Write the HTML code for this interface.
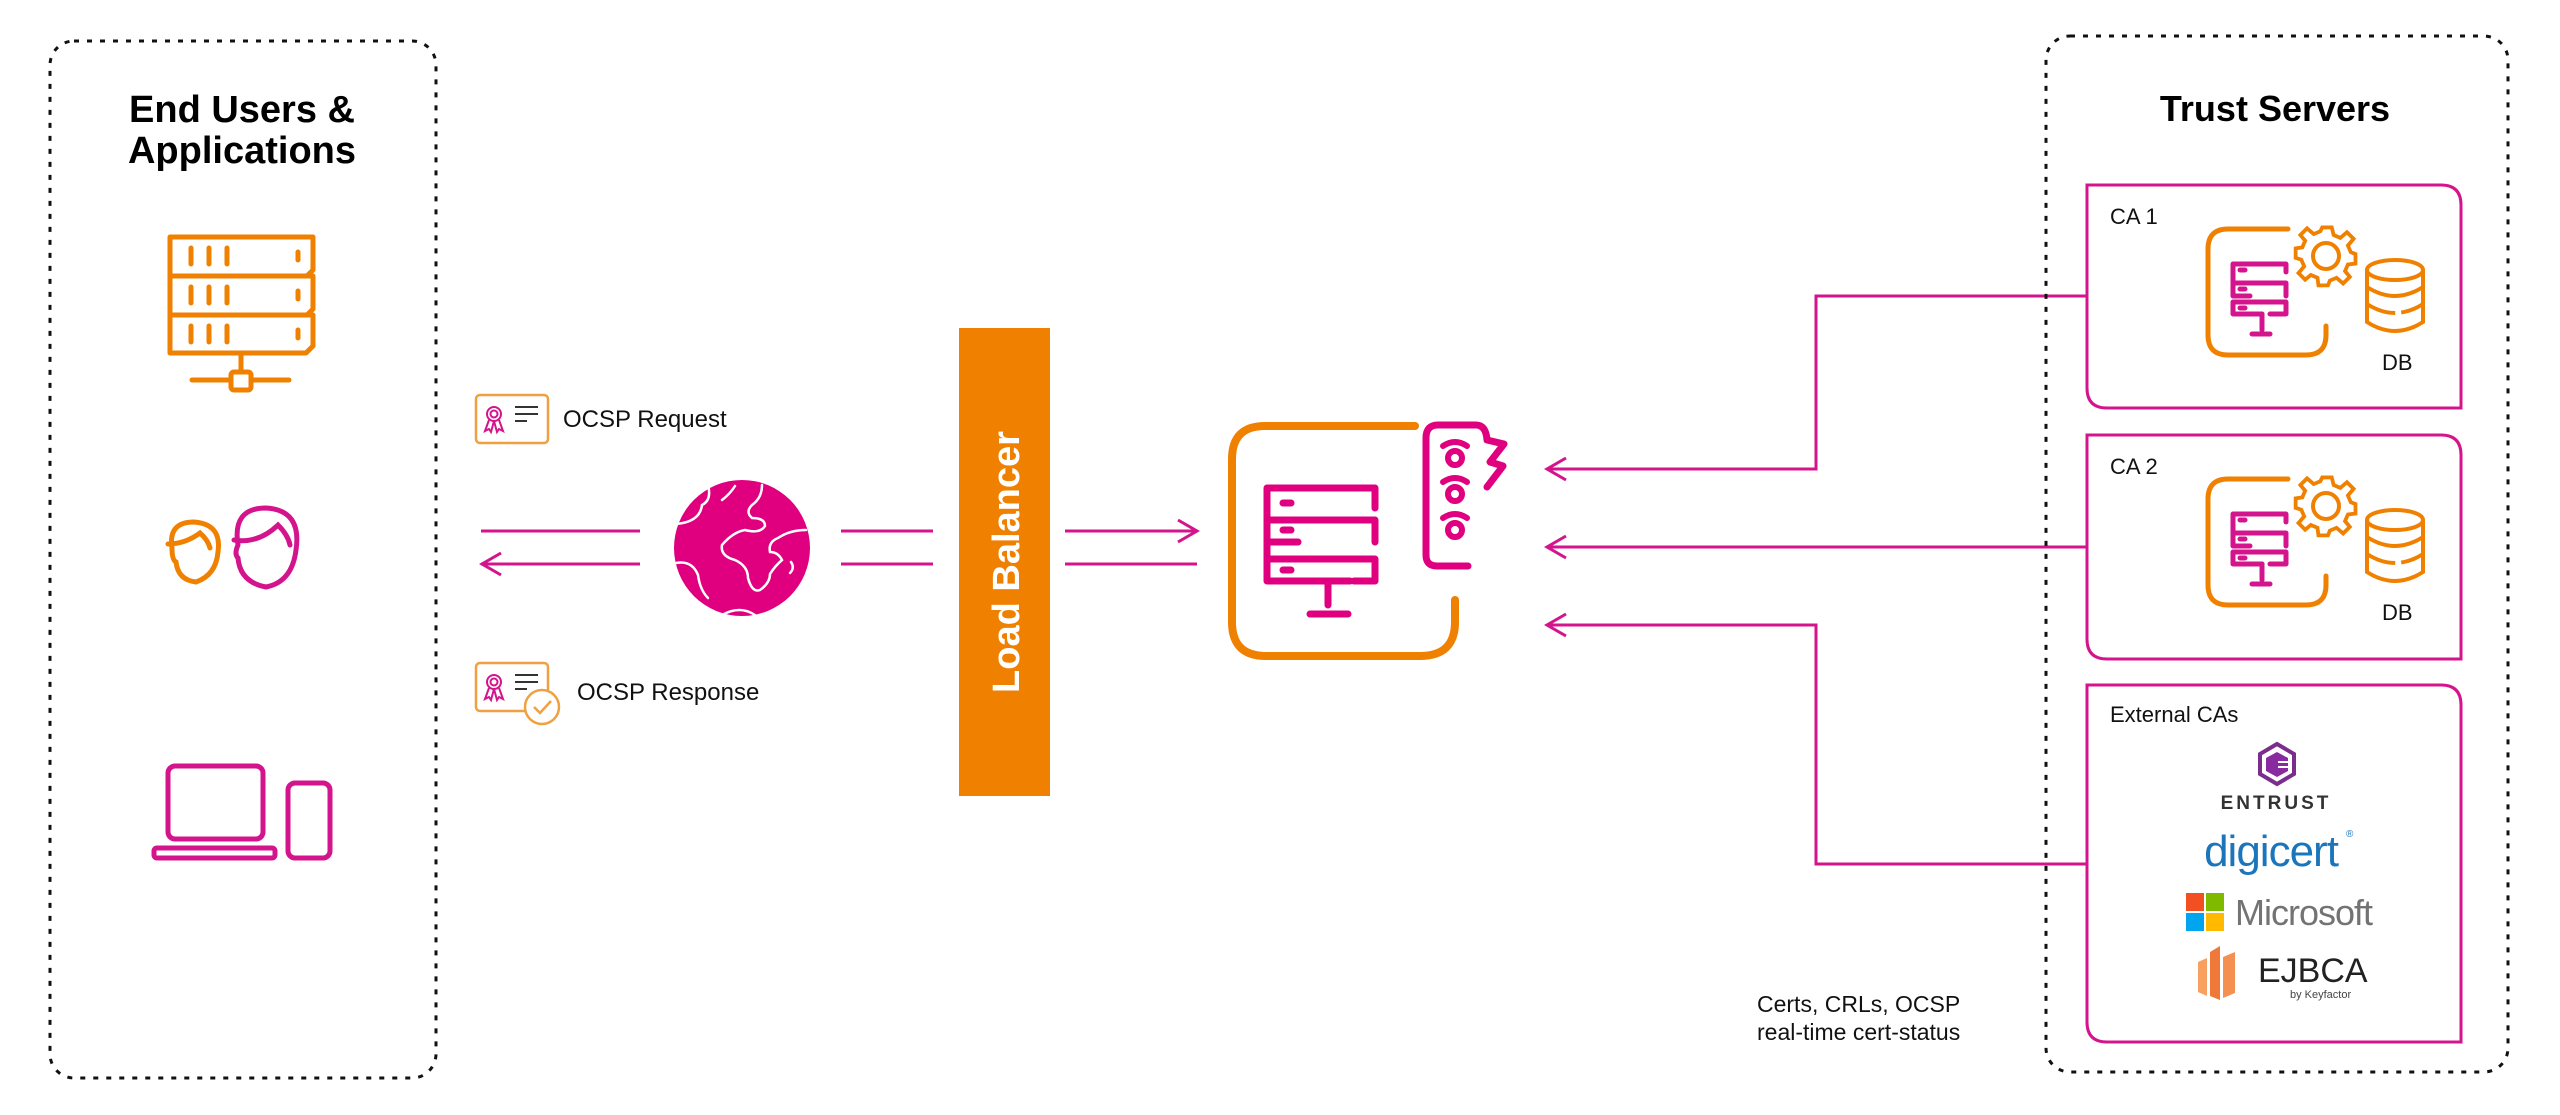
<!DOCTYPE html>
<html><head><meta charset="utf-8"><style>
html,body{margin:0;padding:0;background:#fff;}
svg{display:block}
text{font-family:"Liberation Sans",sans-serif}
</style></head><body>
<svg width="2560" height="1115" viewBox="0 0 2560 1115" xmlns="http://www.w3.org/2000/svg">
<defs>
<g id="caicon">
  <path d="M2288 229 H2228 Q2208 229 2208 249 V335 Q2208 355 2228 355 H2306 Q2326 355 2326 335 V326" fill="none" stroke="#f08100" stroke-width="5" stroke-linecap="round"/>
  <g fill="none" stroke="#d4148c" stroke-width="5" stroke-linecap="round" stroke-linejoin="round">
    <path d="M2233 276 V264 H2286 V272"/>
    <path d="M2233 276 V283 M2233 283 H2286 V296 M2233 283 V296 H2250"/>
    <path d="M2233 302 H2286 V314 H2270 M2233 302 V314 H2262"/>
    <path d="M2262 314 V330"/><path d="M2252 334 H2270"/>
    <path d="M2240 270 H2245 M2240 289 H2245 M2240 308 H2245"/>
  </g>
  <g transform="translate(2326,256)" fill="none" stroke="#f08100" stroke-width="4">
    <circle r="13"/>
    <path d="M-5 -29 L5 -29 L7 -21 L14 -18 L21 -24 L28 -17 L22 -10 L25 -3 L30 -1 V9 L22 10 L19 17 L24 23 L17 30 L10 24 L3 27 L1 32 H-9 L-10 24 L-17 21 L-23 26 L-30 19 L-24 12 L-27 5 L-33 3 V-7 L-26 -8 L-23 -15 L-28 -21 L-21 -28 L-14 -22 L-7 -25 Z" transform="translate(1,-1) scale(0.95)"/>
  </g>
  <g fill="none" stroke="#f08100" stroke-width="4">
    <ellipse cx="2395" cy="270" rx="28" ry="10"/>
    <path d="M2367 270 V322 Q2395 340 2423 322 V270"/>
    <path d="M2367 287 Q2395 305 2423 287"/>
    <path d="M2367 304 Q2395 322 2423 304" stroke-dasharray="30 6"/>
  </g>
</g>
</defs>

<rect x="50" y="41" width="386" height="1037" rx="24" fill="none" stroke="#111" stroke-width="3" stroke-dasharray="5 8"/>
<text x="242" y="122" font-size="38" font-weight="bold" text-anchor="middle" fill="#000">End Users &amp;</text>
<text x="242" y="163" font-size="38" font-weight="bold" text-anchor="middle" fill="#000">Applications</text>

<g fill="none" stroke="#f08100" stroke-width="5" stroke-linecap="round" stroke-linejoin="round">
  <path d="M170 237 H313 V270 L307 276 H170 Z"/>
  <path d="M170 276 H313 V309 L307 315 H170 Z"/>
  <path d="M170 315 H313 V346 L306 353 H170 Z"/>
  <path d="M191 248 V264 M209 248 V264 M227 248 V264 M298 252 V260"/>
  <path d="M191 287 V303 M209 287 V303 M227 287 V303 M298 291 V299"/>
  <path d="M191 326 V342 M209 326 V342 M227 326 V342 M298 330 V338"/>
  <path d="M241 353 V372"/>
  <rect x="231" y="372" width="20" height="18" rx="3"/>
  <path d="M192 380 H231 M251 380 H289"/>
</g>

<g fill="none" stroke-width="5" stroke-linecap="round">
  <path stroke="#f08100" d="M168 544 Q185 544 200 533 Q208 540 210 548 M172 548 Q168 522 194 522 Q222 524 218 552 Q216 575 196 582 Q178 580 176 562 Q172 560 172 548"/>
  <path stroke="#d4148c" d="M234 540 Q258 544 278 525 Q288 535 290 545 M238 545 Q232 508 266 508 Q302 510 296 550 Q292 582 266 587 Q240 582 238 558 Q234 554 238 545"/>
</g>

<g fill="none" stroke="#d4148c" stroke-width="5">
  <rect x="168" y="766" width="95" height="73" rx="7"/>
  <rect x="154" y="848" width="121" height="10" rx="3"/>
  <rect x="288" y="783" width="42" height="75" rx="7"/>
</g>

<rect x="476" y="395" width="72" height="48" rx="4" fill="none" stroke="#f0a040" stroke-width="2.5"/>
<g fill="none" stroke="#d4148c" stroke-width="2">
  <circle cx="494" cy="414" r="7"/><circle cx="494" cy="414" r="3.5"/>
  <path d="M489 420 L485 431 L489 429 L491 432 L494 421 M499 420 L503 431 L499 429 L497 432 L494 421"/>
</g>
<path d="M515 407 H538 M515 414 H538 M515 421 H527" stroke="#333" stroke-width="2"/>
<text x="563" y="427" font-size="24" fill="#111">OCSP Request</text>

<rect x="476" y="663" width="72" height="48" rx="4" fill="none" stroke="#f0a040" stroke-width="2.5"/>
<g fill="none" stroke="#d4148c" stroke-width="2">
  <circle cx="494" cy="682" r="7"/><circle cx="494" cy="682" r="3.5"/>
  <path d="M489 688 L485 699 L489 697 L491 700 L494 689 M499 688 L503 699 L499 697 L497 700 L494 689"/>
</g>
<path d="M515 675 H538 M515 682 H538 M515 689 H527" stroke="#333" stroke-width="2"/>
<circle cx="542" cy="707" r="17" fill="#fff" stroke="#f0a040" stroke-width="2.5"/>
<path d="M534 707 L540 713 L551 701" fill="none" stroke="#f0a040" stroke-width="2.5"/>
<text x="577" y="700" font-size="24" fill="#111">OCSP Response</text>

<g stroke="#d4148c" stroke-width="3" fill="none">
  <path d="M481 531 H640"/>
  <path d="M481 564 H640"/>
  <path d="M501 553 L482 564 L501 575"/>
  <path d="M841 531 H933 M841 564 H933"/>
  <path d="M1065 531 H1197 M1065 564 H1197"/>
  <path d="M1178 520 L1197 531 L1178 542"/>
</g>

<circle cx="742" cy="548" r="68" fill="#e0007f"/>
<g fill="none" stroke="#fff" stroke-width="2.5" stroke-linecap="round">
  <path d="M676 524 Q700 522 702 505 Q712 500 708 485"/>
  <path d="M722 500 Q730 494 735 486"/>
  <path d="M762 485 Q762 498 752 505 Q745 512 752 518 Q765 518 765 526 Q760 534 745 530 Q733 532 722 545 Q720 556 735 560 Q748 566 748 578 Q752 593 760 590 Q770 583 770 574 Q775 566 782 560 Q778 552 770 552 Q768 542 778 538 Q790 530 806 530"/>
  <path d="M790 573 Q795 568 791 562"/>
  <path d="M676 563 Q692 560 698 575 Q700 590 708 598"/>
  <path d="M722 615 Q740 605 755 615"/>
</g>

<rect x="959" y="328" width="91" height="468" fill="#f08100"/>
<text transform="translate(1019,562) rotate(-90)" font-size="38" font-weight="bold" fill="#fff" text-anchor="middle">Load Balancer</text>

<g fill="none" stroke-linecap="round" stroke-linejoin="round">
  <path d="M1415 426 H1265 Q1232 426 1232 459 V622 Q1232 656 1266 656 H1420 Q1455 656 1455 622 V600" stroke="#f08100" stroke-width="8"/>
  <g stroke="#e0007f" stroke-width="7">
    <path d="M1267 510 V488 H1375 V508"/>
    <path d="M1267 510 V542 H1298"/>
    <path d="M1267 520 H1375 V542"/>
    <path d="M1267 559 V581 H1350"/>
    <path d="M1267 559 H1375 V581 H1354"/>
    <path d="M1267 542 V559"/>
    <path d="M1328 581 V605 M1310 614 H1348"/>
    <path d="M1283 503 H1291 M1283 530 H1291 M1283 570 H1291"/>
    <path d="M1468 566 H1437 Q1426 566 1426 555 V438 Q1426 425 1438 425 H1476 Q1486 425 1487 440 L1504 444 L1490 462 L1503 466 L1487 487"/>
  </g>
  <g stroke="#e0007f" stroke-width="6">
    <circle cx="1455" cy="458" r="7"/><path d="M1443 446 Q1455 438 1467 446"/>
    <circle cx="1455" cy="494" r="7"/><path d="M1443 482 Q1455 474 1467 482"/>
    <circle cx="1455" cy="530" r="7"/><path d="M1443 518 Q1455 510 1467 518"/>
  </g>
</g>

<g stroke="#d4148c" stroke-width="3" fill="none">
  <path d="M2087 296 H1816 V469 H1547"/>
  <path d="M2087 547 H1547"/>
  <path d="M2087 864 H1816 V625 H1547"/>
  <path d="M1566 458 L1547 469 L1566 480"/>
  <path d="M1566 536 L1547 547 L1566 558"/>
  <path d="M1566 614 L1547 625 L1566 636"/>
</g>
<text x="1757" y="1012" font-size="23" fill="#111">Certs, CRLs, OCSP</text>
<text x="1757" y="1040" font-size="23" fill="#111">real-time cert-status</text>

<rect x="2046" y="36" width="462" height="1036" rx="24" fill="none" stroke="#111" stroke-width="3" stroke-dasharray="5 8"/>
<text x="2275" y="121" font-size="36" font-weight="bold" text-anchor="middle" fill="#000">Trust Servers</text>

<g fill="#fff" stroke="#d4148c" stroke-width="3">
  <path d="M2087 185 H2441 Q2461 185 2461 205 V408 H2107 Q2087 408 2087 388 Z"/>
  <path d="M2087 435 H2441 Q2461 435 2461 455 V659 H2107 Q2087 659 2087 639 Z"/>
  <path d="M2087 685 H2441 Q2461 685 2461 705 V1042 H2107 Q2087 1042 2087 1022 Z"/>
</g>
<text x="2110" y="224" font-size="22" fill="#111">CA 1</text>
<text x="2382" y="370" font-size="22" fill="#111">DB</text>
<use href="#caicon"/>
<text x="2110" y="474" font-size="22" fill="#111">CA 2</text>
<text x="2382" y="620" font-size="22" fill="#111">DB</text>
<use href="#caicon" transform="translate(0,250)"/>
<text x="2110" y="722" font-size="22" fill="#111">External CAs</text>

<polygon points="2277,744 2294,754 2294,774 2277,784 2260,774 2260,754" fill="none" stroke="#7b2d8e" stroke-width="4"/>
<polygon points="2277,752 2288,758 2288,771 2277,777 2266,771 2266,758" fill="#8a2aa0"/>
<path d="M2278 762 H2288 M2278 767 H2288" stroke="#fff" stroke-width="2"/>
<text x="2276" y="809" font-size="19" font-weight="bold" text-anchor="middle" letter-spacing="3" fill="#333">ENTRUST</text>
<text x="2271" y="866" font-size="44" text-anchor="middle" fill="#1b75bb" letter-spacing="-1">digicert</text>
<text x="2346" y="837" font-size="10" fill="#1b75bb">®</text>
<rect x="2186" y="893" width="18" height="18" fill="#f25022"/>
<rect x="2206" y="893" width="18" height="18" fill="#7fba00"/>
<rect x="2186" y="913" width="18" height="18" fill="#00a4ef"/>
<rect x="2206" y="913" width="18" height="18" fill="#ffb900"/>
<text x="2235" y="925" font-size="36" fill="#737373" letter-spacing="-1">Microsoft</text>
<path d="M2198 962 L2207 958 V996 L2198 992 Z" fill="#f8a060"/>
<path d="M2210 952 L2220 946 V1000 L2210 996 Z" fill="#f07838"/>
<path d="M2223 957 L2235 952 V993 L2223 998 Z" fill="#f49050"/>
<text x="2258" y="982" font-size="34" fill="#222">EJBCA</text>
<text x="2290" y="998" font-size="11" fill="#444">by Keyfactor</text>
</svg>
</body></html>
